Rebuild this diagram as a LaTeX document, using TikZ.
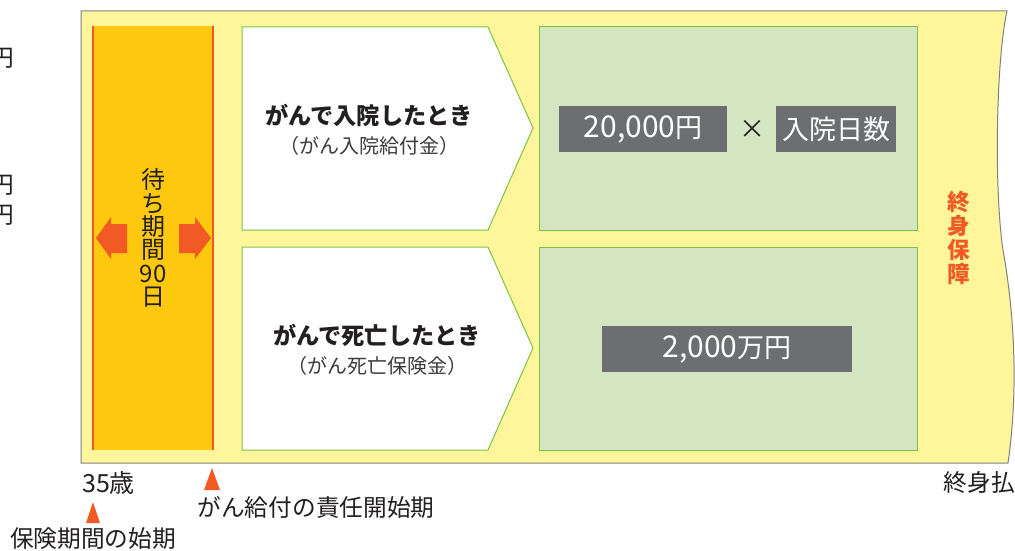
\documentclass[tikz,border=0pt]{standalone}
\usepackage{fontspec}
\setmainfont{Noto Sans CJK JP}
\definecolor{bgyel}{HTML}{FFF59B}
\definecolor{band}{HTML}{FDC80E}
\definecolor{orng}{HTML}{F15A24}
\definecolor{grn}{HTML}{7DC242}
\definecolor{lgrn}{HTML}{D3E6C1}
\definecolor{gbox}{HTML}{6D6E71}
\definecolor{txt}{HTML}{231F20}
\definecolor{subt}{HTML}{3C3C3C}
\definecolor{frame}{HTML}{808080}
\newcommand{\dg}{\fontsize{30}{30}\selectfont}
\newcommand{\kj}{\fontsize{27}{27}\selectfont}
\tikzset{
  pent/.style={draw=grn, line width=1pt, fill=white},
  greenbox/.style={draw=grn, line width=1pt, fill=lgrn},
  valbox/.style={fill=gbox, text=white, inner sep=0pt, font=\kj},
  title/.style={text=txt, font=\bfseries\fontsize{23.2}{24}\selectfont},
  sub/.style={text=subt, font=\fontsize{20}{21}\selectfont},
  lbl/.style={text=txt, font=\fontsize{23.7}{24}\selectfont},
  tri/.style={fill=orng, draw=none},
  fatarrow/.style={fill=orng, draw=none}
}
\begin{document}
\begin{tikzpicture}[x=1pt,y=-1pt]
\useasboundingbox (0,0) rectangle (1015,551);
% clipped left texts
\node[lbl, anchor=east, inner sep=0pt] (c1) at (14,58) {円};
\node[lbl, anchor=east, inner sep=0pt] (c2) at (14,185) {円};
\node[lbl, anchor=east, inner sep=0pt] (c3) at (14,215) {円};
% main frame
\path[fill=bgyel, draw=frame, line width=1pt]
  (81,11) -- (1007,11)
  .. controls (996,60) and (994,190) .. (1003,250)
  .. controls (1012,300) and (1020,380) .. (1008,463)
  -- (81,463) -- cycle;
% waiting band
\fill[band] (93,26) rectangle (213,450);
\draw[orng, line width=2.2pt] (93,26) -- (93,450);
\draw[orng, line width=2.2pt] (213,26) -- (213,450);
\node[text=txt, align=center, inner sep=0pt, font=\fontsize{24}{23.4}\selectfont] (wait) at (153,238) {待\\ち\\期\\間\\90\\日};
% arrows
\fill[fatarrow] (96,238) -- (111,217) -- (111,224) -- (127,224) -- (127,253) -- (111,253) -- (111,259) -- cycle;
\fill[fatarrow] (211,238) -- (195,217) -- (195,224) -- (179,224) -- (179,253) -- (195,253) -- (195,259) -- cycle;
% pentagons
\path[pent] (242,27) -- (488,27) -- (533,128) -- (488,230) -- (242,230) -- cycle;
\path[pent] (242,247) -- (488,247) -- (533,348) -- (488,450) -- (242,450) -- cycle;
\node[title] (t1) at (369,115) {がんで入院したとき};
\node[sub] (s1) at (369,146) {（がん入院給付金）};
\node[title] (t2) at (377,335) {がんで死亡したとき};
\node[sub] (s2) at (377,366) {（がん死亡保険金）};
% green boxes
\path[greenbox] (539,27) rectangle (917,230);
\path[greenbox] (539,247) rectangle (917,450);
\node[valbox, minimum width=168pt, minimum height=46pt] (v1) at (643,129) {{\dg 20,000}円};
\node[text=txt, font=\fontsize{26}{26}\selectfont] (x) at (752,129) {×};
\node[valbox, minimum width=120pt, minimum height=46pt] (v2) at (836,129) {入院日数};
\node[valbox, minimum width=250pt, minimum height=46pt] (v3) at (727,349) {{\dg 2,000}万円};
% lifetime coverage
\node[text=orng, align=center, inner sep=0pt, font=\bfseries\fontsize{22.5}{23.7}\selectfont] (life) at (959,238) {終\\身\\保\\障};
% bottom labels
\node[lbl, anchor=west, inner sep=0pt, font=\fontsize{25}{25}\selectfont] (age) at (82,483) {35歳};
\node[lbl, anchor=east, inner sep=0pt] (end) at (1015,483) {終身払};
\fill[tri] (212,468) -- (204,490) -- (220,490) -- cycle;
\node[lbl, inner sep=0pt] (resp) at (316,507) {がん給付の責任開始期};
\fill[tri] (93,502) -- (86,523) -- (100,523) -- cycle;
\node[lbl, inner sep=0pt] (start) at (93,539) {保険期間の始期};
\end{tikzpicture}
\end{document}
